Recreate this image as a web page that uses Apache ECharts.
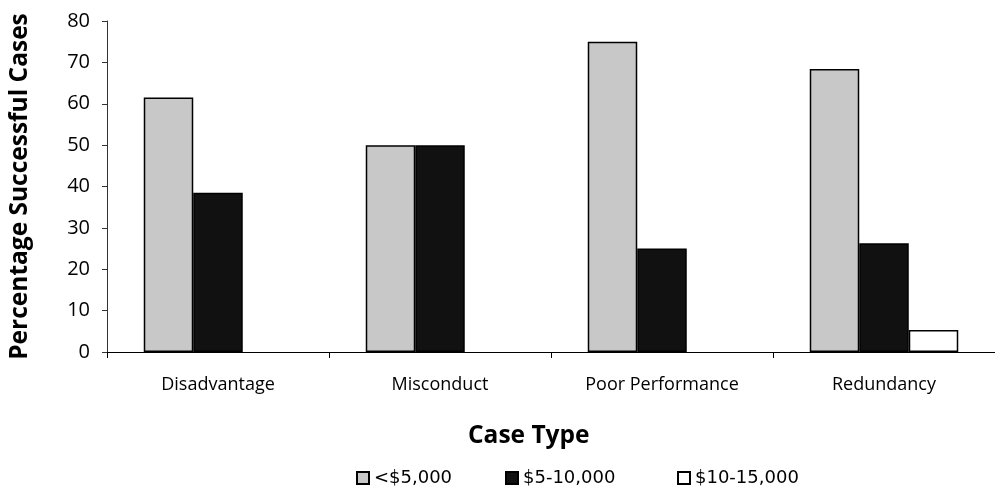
<!DOCTYPE html>
<html><head><meta charset="utf-8">
<script src="https://cdn.jsdelivr.net/npm/echarts@6/dist/echarts.min.js"></script>
<style>html,body{margin:0;padding:0;background:#fff}#c{width:995px;height:492px}</style>
</head><body><div id="c"></div>
<script>
const categories = ['Disadvantage', 'Misconduct', 'Poor Performance', 'Redundancy'];
const seriesNames = ['<$5,000', '$5-10,000', '$10-15,000'];
const under5k = [61.5, 50, 75, 68.4];
const from5to10k = [38.5, 50, 25, 26.3];
const from10to15k = [null, null, null, 5.3];
const yTicks = [0, 10, 20, 30, 40, 50, 60, 70, 80];

const chart = echarts.init(document.getElementById('c'), null, {renderer: 'canvas'});
const axisFont = '"Open Sans", Lato, sans-serif';
const legendFont = '"DejaVu Sans", Arial, sans-serif';
const colors = ['#c8c8c8', '#111111', '#ffffff'];
const values = [under5k, from5to10k, from10to15k];
const legendLeft = [356, 505, 677];
chart.setOption({
  animation: false,
  title: {
    text: 'Case Type', left: 463, top: 419,
    textStyle: {fontFamily: axisFont, fontWeight: 'bold', fontSize: 24.5, color: '#000'}
  },
  grid: {left: 106, right: 0, top: 21, bottom: 140},
  xAxis: {
    type: 'category', data: categories,
    axisLine: {lineStyle: {color: '#000', width: 1}},
    axisTick: {show: true, length: 6, lineStyle: {color: '#000'}},
    axisLabel: {fontFamily: axisFont, fontSize: 18, color: '#000', margin: 24}
  },
  yAxis: {
    type: 'value', min: yTicks[0], max: yTicks[yTicks.length - 1], interval: 10,
    name: 'Percentage Successful Cases', nameLocation: 'middle', nameGap: 74,
    nameTextStyle: {fontFamily: axisFont, fontWeight: 'bold', fontSize: 24.5, color: '#000'},
    axisLine: {show: true, lineStyle: {color: '#333', width: 1}},
    axisTick: {show: true, length: 5, lineStyle: {color: '#333'}},
    splitLine: {show: false},
    axisLabel: {fontFamily: axisFont, fontSize: 20, color: '#000', margin: 17}
  },
  legend: seriesNames.map((n, i) => ({
    top: 469, left: legendLeft[i], padding: 0, itemWidth: 12, itemHeight: 12, icon: 'rect', itemGap: 0,
    textStyle: {fontFamily: legendFont, fontSize: 18, color: '#000'},
    data: [n]
  })),
  series: seriesNames.map((n, i) => ({
    name: n, type: 'bar', data: values[i],
    barWidth: 49.5, barGap: '0%',
    itemStyle: {color: colors[i], borderColor: '#000', borderWidth: 1.5}
  }))
});
</script></body></html>
